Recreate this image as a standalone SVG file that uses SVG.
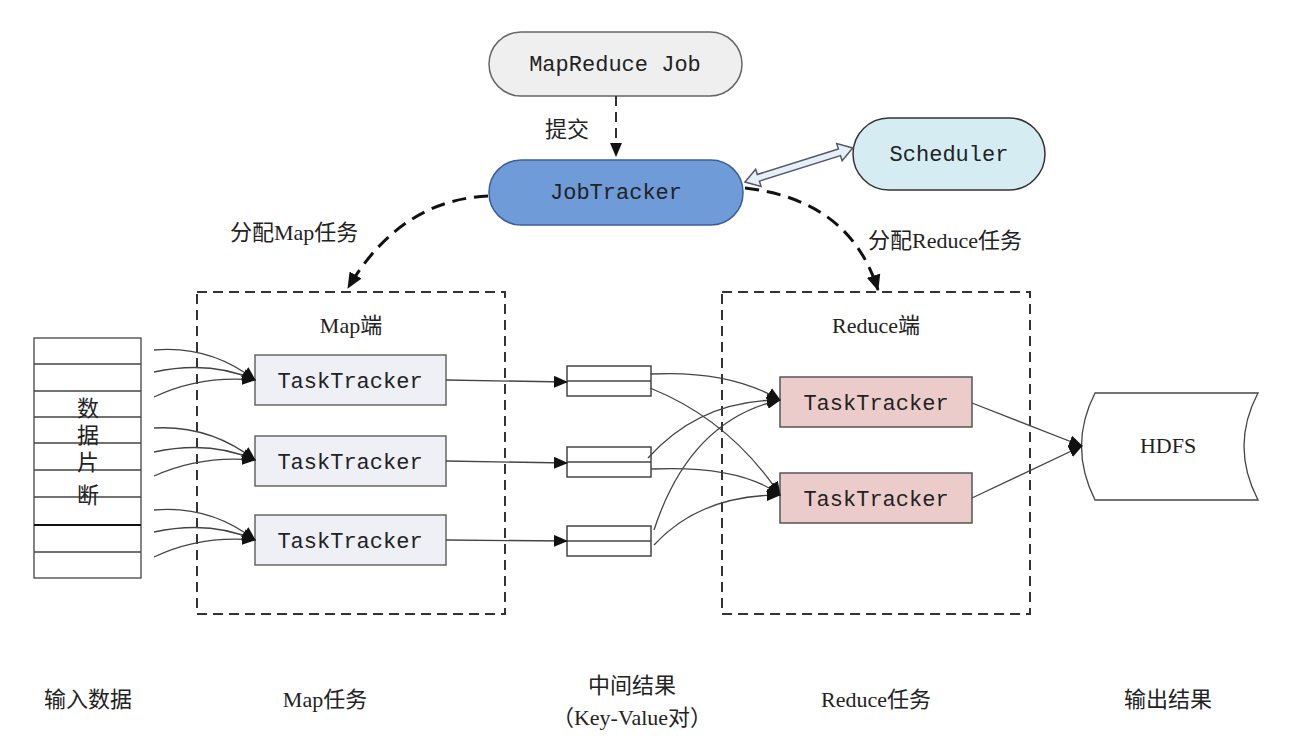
<svg xmlns="http://www.w3.org/2000/svg" width="1299" height="745" viewBox="0 0 1299 745">
<style>
.t{font-family:"Liberation Mono","Noto Sans CJK SC",monospace;font-size:22px;fill:#222}
.c{font-family:"Liberation Serif","Noto Sans CJK SC",serif;font-size:22px;fill:#222}
.dash{fill:none;stroke:#333;stroke-width:2;stroke-dasharray:10,6}
.ln{fill:none;stroke:#444;stroke-width:1.3}
.mt{fill:#eef0f6;stroke:#666;stroke-width:1.5}
.rt{fill:#ecccca;stroke:#555;stroke-width:1.5}
.ib{fill:#fff;stroke:#444;stroke-width:1.5}
</style>
<defs>
<marker id="a" markerWidth="14" markerHeight="12" refX="13" refY="6" orient="auto" markerUnits="userSpaceOnUse"><path d="M0,0L14,6L0,12z" fill="#111"/></marker>
<marker id="b" markerWidth="16" markerHeight="14" refX="15" refY="7" orient="auto" markerUnits="userSpaceOnUse"><path d="M0,0L16,7L0,14z" fill="#111"/></marker>
</defs>
<rect width="1299" height="745" fill="#fff"/>
<g id="job"><rect x="489" y="32" width="253" height="64" rx="32" fill="#efefef" stroke="#666" stroke-width="1.5"/><text class="t" x="615" y="71" text-anchor="middle">MapReduce Job</text></g>
<g id="jobtracker"><rect x="489" y="160" width="254" height="65" rx="32" fill="#6f9bd8" stroke="#3d5f99" stroke-width="1.5"/><text class="t" x="616" y="199" text-anchor="middle">JobTracker</text></g>
<g id="scheduler"><rect x="853" y="118" width="192" height="72" rx="36" fill="#d5ecf2" stroke="#333" stroke-width="1.5"/><text class="t" x="949" y="161" text-anchor="middle">Scheduler</text></g>
<g id="mapbox"><rect class="dash" x="197" y="292" width="308" height="322"/><text class="c" x="351" y="333" text-anchor="middle">Map端</text></g>
<g id="reducebox"><rect class="dash" x="722" y="292" width="308" height="322"/><text class="c" x="876" y="333" text-anchor="middle">Reduce端</text></g>
<g id="data">
<rect x="34" y="338" width="107" height="240" fill="#fff" stroke="#444" stroke-width="1.3"/>
<path d="M34,364H141M34,391H141M34,417H141M34,443H141M34,470H141M34,497H141M34,552H141" stroke="#444" stroke-width="1.3"/>
<path d="M34,525H141" stroke="#111" stroke-width="2"/>
<text class="c" x="88" y="416" text-anchor="middle">数</text><text class="c" x="88" y="443" text-anchor="middle">据</text><text class="c" x="88" y="470" text-anchor="middle">片</text><text class="c" x="88" y="503" text-anchor="middle">断</text>
</g>
<g id="m1"><rect class="mt" x="255" y="355" width="191" height="50"/><text class="t" x="350" y="388" text-anchor="middle">TaskTracker</text></g>
<g id="m2"><rect class="mt" x="255" y="436" width="191" height="50"/><text class="t" x="350" y="469" text-anchor="middle">TaskTracker</text></g>
<g id="m3"><rect class="mt" x="255" y="515" width="191" height="50"/><text class="t" x="350" y="548" text-anchor="middle">TaskTracker</text></g>
<g id="i1"><rect class="ib" x="567" y="366" width="84" height="30"/><path d="M567,381H651" stroke="#444" stroke-width="1.5"/></g>
<g id="i2"><rect class="ib" x="567" y="447" width="84" height="30"/><path d="M567,462H651" stroke="#444" stroke-width="1.5"/></g>
<g id="i3"><rect class="ib" x="567" y="526" width="84" height="30"/><path d="M567,541H651" stroke="#444" stroke-width="1.5"/></g>
<g id="r1"><rect class="rt" x="780" y="377" width="192" height="50"/><text class="t" x="876" y="410" text-anchor="middle">TaskTracker</text></g>
<g id="r2"><rect class="rt" x="780" y="473" width="192" height="50"/><text class="t" x="876" y="506" text-anchor="middle">TaskTracker</text></g>
<g id="hdfs"><path d="M1095,393H1258Q1230,446 1258,500H1095Q1068,446 1095,393z" fill="#fff" stroke="#444" stroke-width="1.3"/><text class="c" x="1168" y="453" text-anchor="middle" font-size="24">HDFS</text></g>
<g id="connectors">
<path class="dash" d="M616,96V156" marker-end="url(#a)"/>
<path d="M488,196Q400,200 348,288" fill="none" stroke="#111" stroke-width="3" stroke-dasharray="14,8" marker-end="url(#b)"/>
<path d="M745,188Q850,200 878,290" fill="none" stroke="#111" stroke-width="3" stroke-dasharray="14,8" marker-end="url(#b)"/>
<polygon transform="translate(745,182) rotate(-17.5)" points="0,0 14,-9 14,-3.5 99,-3.5 99,-9 113,0 99,9 99,3.5 14,3.5 14,9" fill="#e4f0f8" stroke="#556" stroke-width="1.5"/>
<g class="ln" marker-end="url(#a)">
<path d="M154,350Q210,345 255,380"/><path d="M154,372Q210,360 255,380"/><path d="M154,397Q200,375 255,380"/>
<path d="M154,428Q210,425 255,460"/><path d="M154,452Q210,440 255,460"/><path d="M154,476Q200,455 255,460"/>
<path d="M154,510Q210,505 255,540"/><path d="M154,532Q210,520 255,540"/><path d="M154,557Q200,535 255,540"/>
<path d="M446,380L567,382"/><path d="M446,461L567,463"/><path d="M446,540L567,541"/>
<path d="M651,374Q730,370 780,400"/><path d="M648,458Q700,400 780,400"/><path d="M654,530Q690,420 780,400"/>
<path d="M650,388Q730,420 780,495"/><path d="M651,469Q740,465 780,495"/><path d="M654,545Q700,495 780,495"/>
<path d="M972,403L1082,446"/><path d="M972,498L1082,446"/>
</g>
</g>
<text class="c" x="545" y="137">提交</text>
<text class="c" x="230" y="240">分配Map任务</text>
<text class="c" x="868" y="248">分配Reduce任务</text>
<text class="c" x="88" y="707" text-anchor="middle">输入数据</text>
<text class="c" x="325" y="707" text-anchor="middle">Map任务</text>
<text class="c" x="632" y="693" text-anchor="middle">中间结果</text>
<text class="c" x="632" y="725" text-anchor="middle">（Key-Value对）</text>
<text class="c" x="876" y="707" text-anchor="middle">Reduce任务</text>
<text class="c" x="1168" y="707" text-anchor="middle">输出结果</text>
</svg>
